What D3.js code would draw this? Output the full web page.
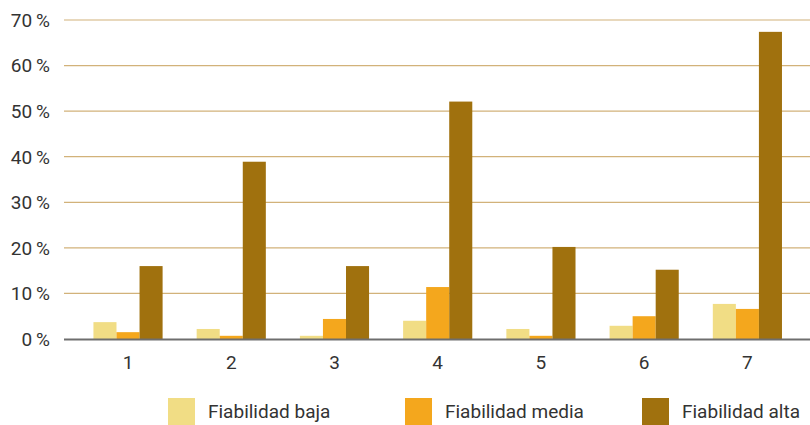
<!DOCTYPE html>
<html>
<head>
<meta charset="utf-8">
<script src="https://cdn.jsdelivr.net/npm/d3@7"></script>
<style>
  body { margin: 0; background: #fff; }
  text { font-family: Roboto, "Noto Sans", sans-serif; fill: #333; }
</style>
</head>
<body>
<svg id="chart" width="810" height="425"></svg>
<script>
var categories = ["1", "2", "3", "4", "5", "6", "7"];
var series = ["Fiabilidad baja", "Fiabilidad media", "Fiabilidad alta"];
var baja = [3.7, 2.2, 0.7, 4.0, 2.2, 2.9, 7.7];
var media = [1.5, 0.7, 4.4, 11.4, 0.7, 5.0, 6.6];
var alta = [16.0, 38.9, 16.0, 52.1, 20.2, 15.2, 67.4];
var yTicks = [0, 10, 20, 30, 40, 50, 60, 70];
var colors = ["#f1dd85", "#f4a71d", "#a0710e"];

var values = [baja, media, alta];
var svg = d3.select("#chart");

var x = d3.scaleBand().domain(categories).range([76.4, 799]).paddingInner(0.33).paddingOuter(0.165);
var xs = d3.scaleBand().domain(series).range([0, x.bandwidth()]);
var y = d3.scaleLinear().domain([0, 70]).range([339, 20]);

// gridlines
svg.append("g").selectAll("line")
  .data(yTicks.filter(d => d > 0))
  .enter().append("line")
  .attr("x1", 64).attr("x2", 810)
  .attr("y1", d => y(d)).attr("y2", d => y(d))
  .attr("stroke", "#d2b27a")
  .attr("stroke-width", 1.2);

// y labels
svg.append("g").selectAll("text")
  .data(yTicks)
  .enter().append("text")
  .attr("x", 50)
  .attr("y", d => y(d))
  .attr("dy", "0.36em")
  .attr("text-anchor", "end")
  .style("font-size", "19px")
  .text(d => d + "\u2009%");

// bars
series.forEach(function(s, k){
  svg.append("g").selectAll("rect")
    .data(values[k])
    .enter().append("rect")
    .attr("x", (d, i) => x(categories[i]) + xs(s))
    .attr("y", d => y(d))
    .attr("width", xs.bandwidth())
    .attr("height", d => y(0) - y(d))
    .attr("fill", colors[k]);
});

// axis line
svg.append("line")
  .attr("x1", 64).attr("x2", 810)
  .attr("y1", y(0) + 0.5).attr("y2", y(0) + 0.5)
  .attr("stroke", "#6e6e6e")
  .attr("stroke-width", 2);

// x labels
svg.append("g").selectAll("text")
  .data(categories)
  .enter().append("text")
  .attr("x", d => x(d) + x.bandwidth() / 2)
  .attr("y", 369)
  .attr("text-anchor", "middle")
  .style("font-size", "19px")
  .text(d => d);

// legend
var legendX = [168, 405, 642];
var legend = svg.append("g").selectAll("g")
  .data(series)
  .enter().append("g")
  .attr("transform", (d, i) => "translate(" + legendX[i] + ",398)");
legend.append("rect")
  .attr("width", 27).attr("height", 27)
  .attr("fill", (d, i) => colors[i]);
legend.append("text")
  .attr("x", 40)
  .attr("y", 20)
  .style("font-size", "19px")
  .text(d => d);
</script>
</body>
</html>
